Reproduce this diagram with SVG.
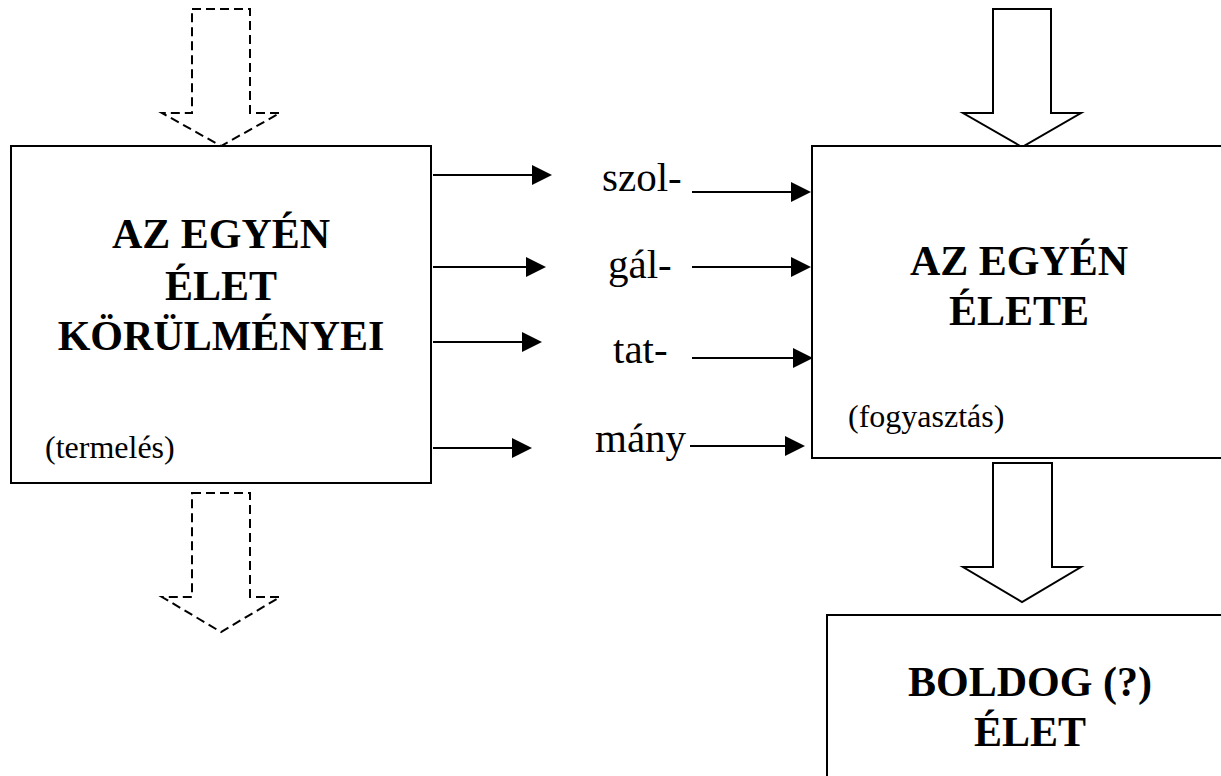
<svg xmlns="http://www.w3.org/2000/svg" width="1221" height="776" viewBox="0 0 1221 776">
<style>
.box{fill:#fff;stroke:#000;stroke-width:2}
.title{font-family:"Liberation Serif","Times New Roman",serif;font-weight:bold;font-size:42px;text-anchor:middle;fill:#000}
.small{font-family:"Liberation Serif","Times New Roman",serif;font-size:32px;fill:#000}
.mid{font-family:"Liberation Serif","Times New Roman",serif;font-size:41px;fill:#000}
.blk{fill:#fff;stroke:#000;stroke-width:2;stroke-linejoin:miter}
.dash{fill:#fff;stroke:#000;stroke-width:2;stroke-dasharray:9 5}
.ln{stroke:#000;stroke-width:2;fill:none}
.head{fill:#000}
</style>
<rect width="1221" height="776" fill="#fff"/>
<g id="block-arrows">
<polygon class="dash" points="192,9 250,9 250,113 280,113 221,146 162,113 192,113"/>
<polygon class="dash" points="192,493 250,493 250,597 280,597 221,632 162,597 192,597"/>
<polygon class="blk" points="993,9 1051,9 1051,113 1081,113 1022,147 963,113 993,113"/>
<polygon class="blk" points="993,463 1052,463 1052,567 1081,567 1022,602 963,567 993,567"/>
</g>
<g id="node-korulmenyek">
<rect class="box" x="11" y="146" width="420" height="337"/>
<text class="title" x="221" y="248">AZ EGYÉN</text>
<text class="title" x="221" y="300">ÉLET</text>
<text class="title" x="221" y="350">KÖRÜLMÉNYEI</text>
<text class="small" x="45" y="458">(termelés)</text>
</g>
<g id="node-elete">
<rect class="box" x="812" y="146" width="420" height="312"/>
<text class="title" x="1019" y="275">AZ EGYÉN</text>
<text class="title" x="1019" y="325">ÉLETE</text>
<text class="small" x="848" y="427">(fogyasztás)</text>
</g>
<g id="node-boldog">
<rect class="box" x="827" y="615" width="410" height="180"/>
<text class="title" x="1030" y="696">BOLDOG (?)</text>
<text class="title" x="1030" y="746">ÉLET</text>
</g>
<g id="connectors">
<line class="ln" x1="433" y1="175" x2="534" y2="175"/>
<polygon class="head" points="552,175 532,165 532,185"/>
<line class="ln" x1="433" y1="267" x2="528" y2="267"/>
<polygon class="head" points="546,267 526,257 526,277"/>
<line class="ln" x1="433" y1="342" x2="524" y2="342"/>
<polygon class="head" points="542,342 522,332 522,352"/>
<line class="ln" x1="433" y1="448" x2="514" y2="448"/>
<polygon class="head" points="532,448 512,438 512,458"/>
<line class="ln" x1="692" y1="192" x2="793" y2="192"/>
<polygon class="head" points="811,192 791,182 791,202"/>
<line class="ln" x1="692" y1="267" x2="793" y2="267"/>
<polygon class="head" points="811,267 791,257 791,277"/>
<line class="ln" x1="692" y1="358" x2="795" y2="358"/>
<polygon class="head" points="813,358 793,348 793,368"/>
<line class="ln" x1="690" y1="446" x2="787" y2="446"/>
<polygon class="head" points="805,446 785,436 785,456"/>
</g>
<g id="labels">
<text class="mid" x="602" y="191">szol-</text>
<text class="mid" x="608" y="278">gál-</text>
<text class="mid" x="613" y="363">tat-</text>
<text class="mid" x="595" y="452">mány</text>
</g>
</svg>
